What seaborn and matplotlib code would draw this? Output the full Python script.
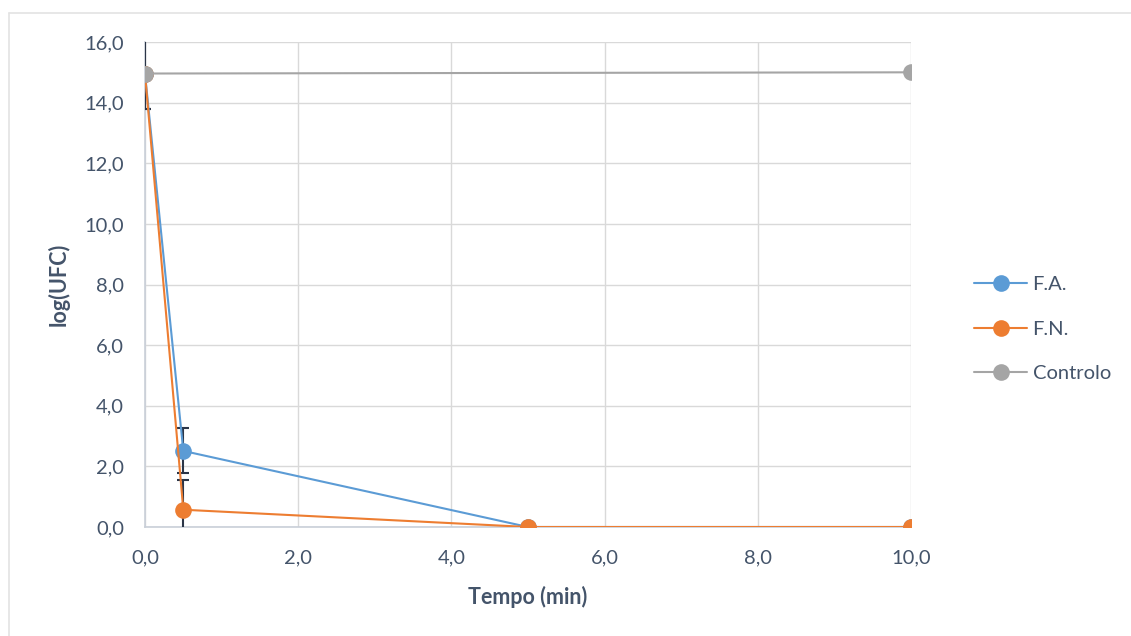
import matplotlib
matplotlib.use("Agg")
import matplotlib.pyplot as plt
import seaborn as sns
import pandas as pd
from matplotlib.lines import Line2D

# Data
fa_x = [0.0, 0.5, 5.0, 10.0]
fa_y = [14.95, 2.51, 0.0, 0.0]
fa_err = [1.15, 0.74, 0.0, 0.0]
fn_x = [0.0, 0.5, 5.0, 10.0]
fn_y = [14.95, 0.57, 0.0, 0.0]
fn_err = [1.15, 0.98, 0.0, 0.0]
ctrl_x = [0.0, 10.0]
ctrl_y = [14.96, 15.0]
series_names = ["F.A.", "F.N.", "Controlo"]
x_ticks = [0, 2, 4, 6, 8, 10]
y_ticks = [0, 2, 4, 6, 8, 10, 12, 14, 16]

sns.set_theme(style="white")
plt.rcParams["font.family"] = ["Lato", "DejaVu Sans"]

TXT = "#44546A"
ERR = "#2B3547"
colors = {"F.A.": "#5B9BD5", "F.N.": "#ED7D31", "Controlo": "#A5A5A5"}
YMIN, YMAX = 0, 16

df = pd.concat([
    pd.DataFrame({"x": fa_x, "y": fa_y, "s": series_names[0]}),
    pd.DataFrame({"x": fn_x, "y": fn_y, "s": series_names[1]}),
    pd.DataFrame({"x": ctrl_x, "y": ctrl_y, "s": series_names[2]}),
], ignore_index=True)

fig = plt.figure(figsize=(11.31, 6.36), dpi=100)
ax = fig.add_axes([145 / 1131, 1 - 527 / 636, (911 - 145) / 1131, (527 - 42) / 636])
ax.set_xlim(0, 10)
ax.set_ylim(YMIN, YMAX)

# error bars, clipped to the plot range (caps only where the end is inside)
for xs, ys, es in [(fa_x, fa_y, fa_err), (fn_x, fn_y, fn_err)]:
    for x, y, e in zip(xs, ys, es):
        if e <= 0:
            continue
        lo, hi = y - e, y + e
        ax.vlines(x, max(lo, YMIN), min(hi, YMAX), color=ERR, linewidth=1.5, zorder=2.6)
        caps = [v for v in (lo, hi) if YMIN < v < YMAX]
        if caps:
            ax.plot([x] * len(caps), caps, linestyle="none", marker="_",
                    markersize=8.6, markeredgewidth=1.5, color=ERR, zorder=2.6)

sns.lineplot(data=df, x="x", y="y", hue="s", hue_order=series_names,
             palette=colors, sort=False, estimator=None, marker="o",
             markersize=12, markeredgewidth=0, linewidth=1.5, legend=False,
             ax=ax, zorder=3)

ax.set_xlim(0, 10)
ax.set_ylim(YMIN, YMAX)
ax.set_xticks(x_ticks)
ax.set_yticks(y_ticks)
ax.set_xticklabels([f"{v:.1f}".replace(".", ",") for v in x_ticks])
ax.set_yticklabels([f"{v:.1f}".replace(".", ",") for v in y_ticks])
ax.tick_params(axis="both", length=0, labelsize=14.5, labelcolor=TXT)
ax.tick_params(axis="y", pad=15)
ax.tick_params(axis="x", pad=16)
ax.grid(True, color="#D9D9D9", linewidth=1.0)
ax.set_axisbelow(True)
for s in ["top", "right"]:
    ax.spines[s].set_visible(False)
for s in ["left", "bottom"]:
    ax.spines[s].set_color("#C9CFD8")
    ax.spines[s].set_linewidth(1.2)
    ax.spines[s].set_zorder(2.5)

ax.set_xlabel("Tempo (min)", fontsize=15.5, fontweight="bold", color=TXT, labelpad=14)
ax.set_ylabel("log(UFC)", fontsize=15.5, fontweight="bold", color=TXT, labelpad=11)

handles = [Line2D([0], [0], color=colors[n], marker="o", markersize=12,
                  markeredgewidth=0, linewidth=1.5) for n in series_names]
fig.legend(handles, series_names, loc="center left",
           bbox_to_anchor=(956 / 1131, 1 - 329 / 636), frameon=False,
           fontsize=14.5, labelcolor=TXT, handlelength=2.65, labelspacing=1.35,
           handletextpad=0.25)

# outer chart border (top and left visible)
fig.add_artist(Line2D([9 / 1131, 1.0], [1 - 13 / 636, 1 - 13 / 636],
                      transform=fig.transFigure, color="#E3E3E3", linewidth=1.2))
fig.add_artist(Line2D([9 / 1131, 9 / 1131], [0.0, 1 - 13 / 636],
                      transform=fig.transFigure, color="#E3E3E3", linewidth=1.2))

fig.savefig("out.png", dpi=100, facecolor="white")
